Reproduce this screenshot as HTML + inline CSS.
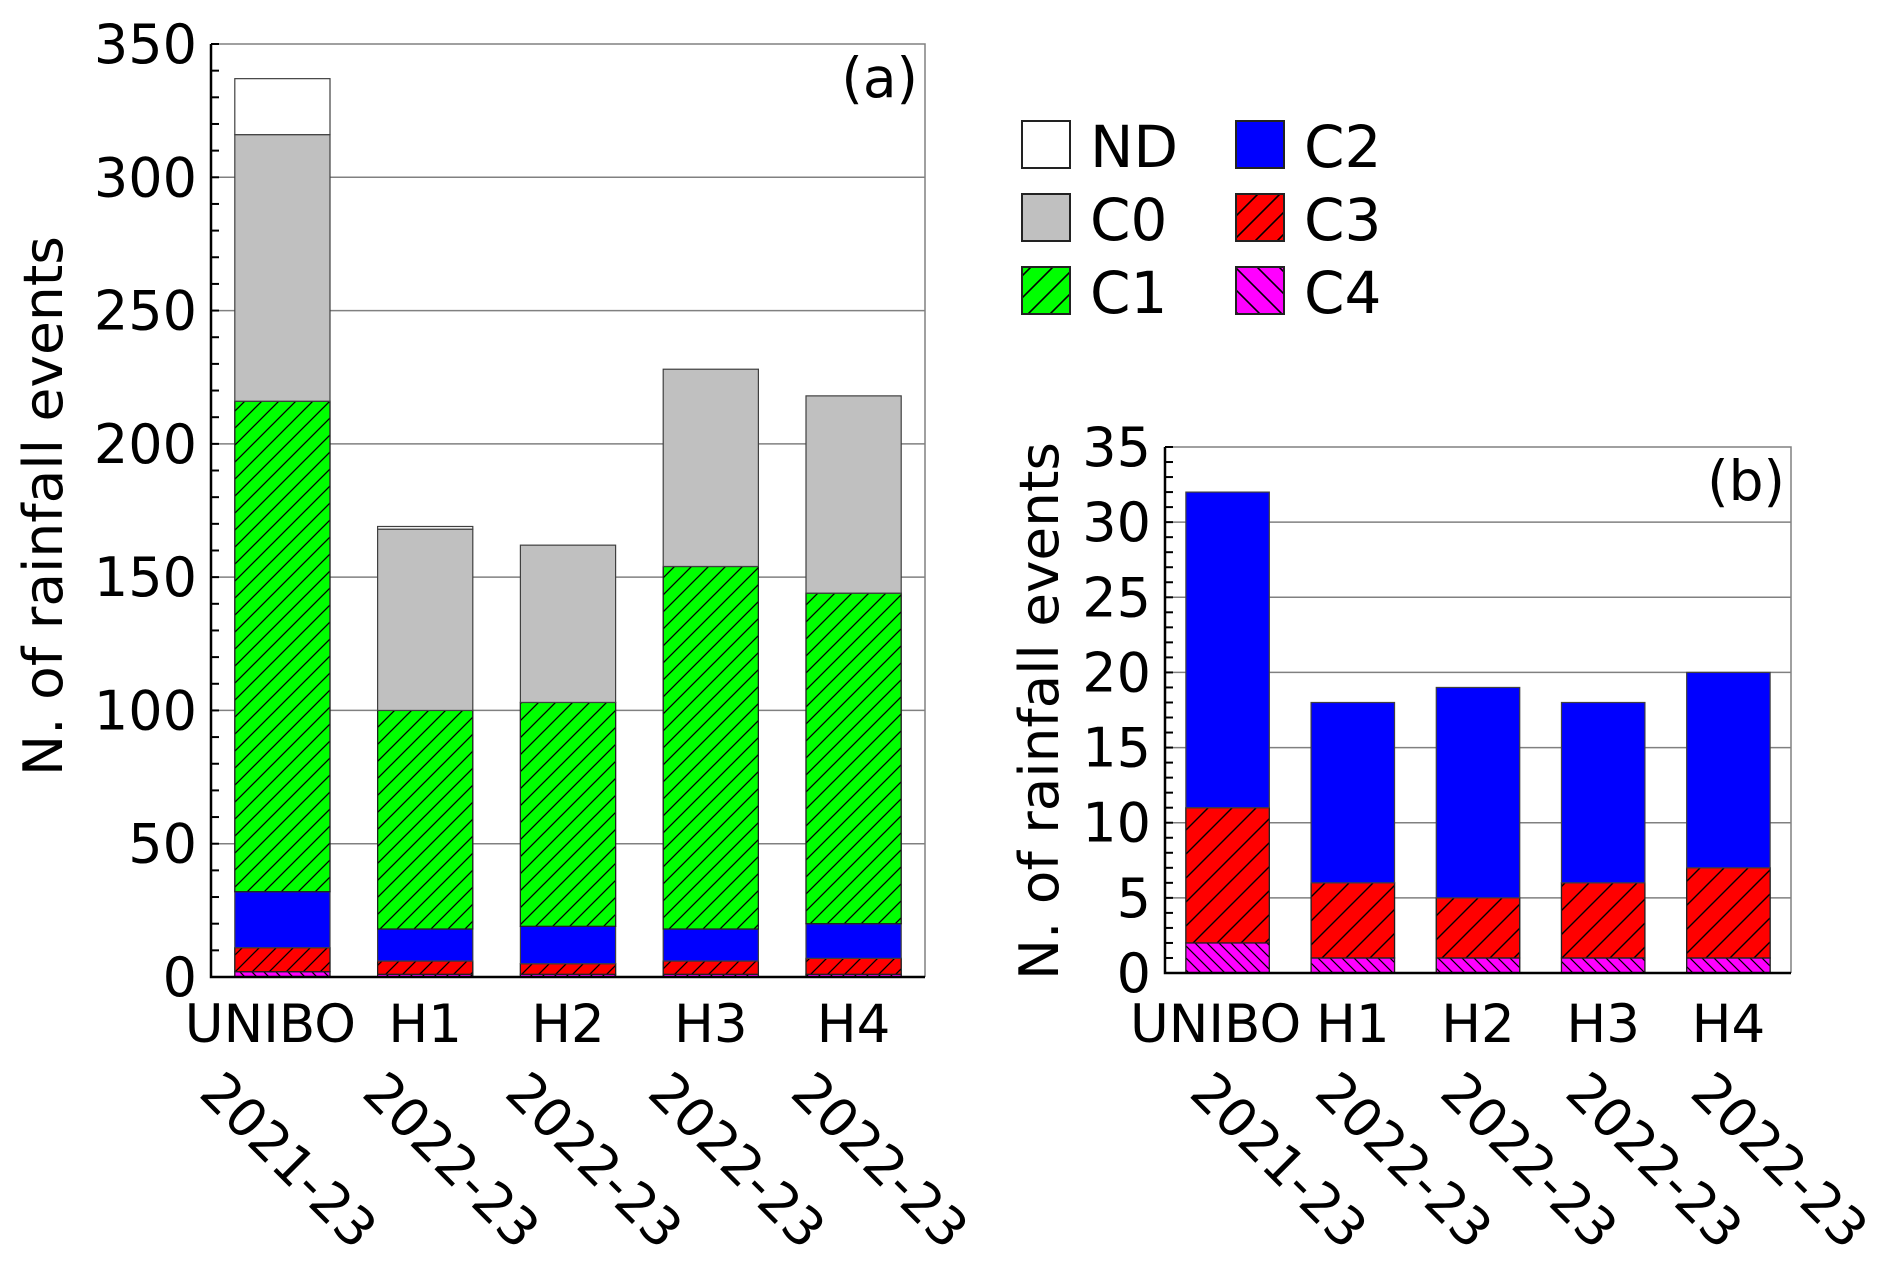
<!DOCTYPE html>
<html><head><meta charset="utf-8"><style>
html,body{margin:0;padding:0;background:#fff;}
svg{display:block;font-family:"DejaVu Sans","Liberation Sans",sans-serif;}
</style></head><body>
<svg id="chart" width="1892" height="1264" viewBox="0 0 1892 1264" xmlns="http://www.w3.org/2000/svg">
<defs>
<pattern id="hA" patternUnits="userSpaceOnUse" width="17" height="17"><path d="M-2,19 L19,-2 M-2,2 L2,-2 M15,19 L19,15" stroke="#000" stroke-width="1.3"/></pattern>
<pattern id="hB" patternUnits="userSpaceOnUse" width="24" height="24"><path d="M-3,27 L27,-3 M-3,3 L3,-3 M21,27 L27,21" stroke="#000" stroke-width="1.4"/></pattern>
<pattern id="hBk" patternUnits="userSpaceOnUse" width="12" height="12"><path d="M-3,-3 L15,15 M-3,9 L3,15 M9,-3 L15,3" stroke="#000" stroke-width="1.2"/></pattern>
<pattern id="hL" patternUnits="userSpaceOnUse" width="22" height="22"><path d="M-3,25 L25,-3 M-3,3 L3,-3 M19,25 L25,19" stroke="#000" stroke-width="1.6"/></pattern>
<pattern id="hLb" patternUnits="userSpaceOnUse" width="22" height="22"><path d="M-3,-3 L25,25 M-3,19 L3,25 M19,-3 L25,3" stroke="#000" stroke-width="1.6"/></pattern>
</defs>
<g id="panelA"></g>
<g id="panelB"></g>
<g id="legend"></g>
</svg>
<script>
const categories = ["UNIBO","H1","H2","H3","H4"];
const periods = ["2021-23","2022-23","2022-23","2022-23","2022-23"];
const seriesNames = ["C4","C3","C2","C1","C0","ND"];
const c4 = [2,1,1,1,1];
const c3 = [9,5,4,5,6];
const c2 = [21,12,14,12,13];
const c1 = [184,82,84,136,124];
const c0 = [100,68,59,74,74];
const nd = [21,1,0,0,0];
const ticksA = [0,50,100,150,200,250,300,350];
const ticksB = [0,5,10,15,20,25,30,35];

const NS="http://www.w3.org/2000/svg";
function mk(tag, attrs, parent){const e=document.createElementNS(NS,tag);for(const k in attrs)e.setAttribute(k,attrs[k]);parent.appendChild(e);return e;}

function drawPanel(g, cfg){
  const {x0,x1,y0,y1,max,ticks,minor,series,label,labelX,labelY,titleX,titleY0,titleLen,rotOff,rotOff0} = cfg;
  const yS = v => y0 - (v/max)*(y0-y1);
  const band = (x1-x0)/categories.length;
  const xC = i => x0 + band*(i+0.5);
  const bw = band*2/3;
  ticks.forEach(t=>{ if(t>0 && t<max){
    const l=mk('line',{x1:x0,x2:x1,y1:yS(t),y2:yS(t),stroke:'#808080','stroke-width':1.5},g);
    
    
  }});
  categories.forEach((c,i)=>{
    let acc=0;
    series.forEach((s)=>{
      const v=s.vals[i]; if(v<=0) return;
      const yt=yS(acc+v), yb=yS(acc);
      const r=mk('rect',{x:xC(i)-bw/2,y:yt,width:bw,height:yb-yt,fill:s.color,stroke:'#404040','stroke-width':1.2},g);
      
      
      if(s.hatch){
        const h=mk('rect',{x:xC(i)-bw/2,y:yt,width:bw,height:yb-yt,fill:'url(#'+s.hatch+')',stroke:'#202020','stroke-width':1.2},g);
        
        
      }
      acc+=v;
    });
  });
  const f1=mk('path',{d:`M${x0},${y1} L${x1},${y1} L${x1},${y0}`,fill:'none',stroke:'#808080','stroke-width':1.5},g);
  
  
  const f2=mk('path',{d:`M${x0},${y1} L${x0},${y0} L${x1},${y0}`,fill:'none',stroke:'#000','stroke-width':2.5},g);
  
  
  for(let v=0; v<=max; v+=minor){
    const t=mk('line',{x1:x0,x2:x0+8,y1:yS(v),y2:yS(v),stroke:'#000','stroke-width':2},g);
    
    
  }
  ticks.forEach(t=>{
    const tx=mk('text',{x:x0-14,y:yS(t)+19,'text-anchor':'end','font-size':54},g);
    tx.textContent=t;
    
    
  });
  categories.forEach((c,i)=>{
    const tx=mk('text',{x:xC(i)+(i===0?-12:0),y:1042,'text-anchor':'middle','font-size':53},g);
    tx.textContent=c;
    
    
    const ax=xC(i)+(i===0?rotOff0:rotOff), ay=1095;
    const pt=mk('text',{x:ax,y:ay,'font-size':53,transform:`rotate(45 ${ax} ${ay})`},g);
    pt.textContent=periods[i];
    
    
  });
  const pl=mk('text',{x:labelX,y:labelY,'text-anchor':'end','font-size':55},g);
  pl.textContent=label;
  
  
  const yt=mk('text',{x:titleX,y:titleY0,'font-size':54,textLength:titleLen,lengthAdjust:'spacingAndGlyphs',transform:`rotate(-90 ${titleX} ${titleY0})`},g);
  yt.textContent='N. of rainfall events';
  
  
}

drawPanel(document.getElementById('panelA'),{
  x0:211,x1:925,y0:977,y1:44,max:350,ticks:ticksA,minor:10,
  series:[{name:'C4',vals:c4,color:'#ff00ff',hatch:'hBk'},{name:'C3',vals:c3,color:'#ff0000',hatch:'hA'},{name:'C2',vals:c2,color:'#0000ff'},{name:'C1',vals:c1,color:'#00ff00',hatch:'hA'},{name:'C0',vals:c0,color:'#c0c0c0'},{name:'ND',vals:nd,color:'#ffffff'}],
  label:'(a)',labelX:918,labelY:97,titleX:62,titleY0:776,titleLen:540,rotOff:-65,rotOff0:-85
});
drawPanel(document.getElementById('panelB'),{
  x0:1165,x1:1791,y0:973,y1:447,max:35,ticks:ticksB,minor:1,
  series:[{name:'C4',vals:c4,color:'#ff00ff',hatch:'hBk'},{name:'C3',vals:c3,color:'#ff0000',hatch:'hB'},{name:'C2',vals:c2,color:'#0000ff'}],
  label:'(b)',labelX:1785,labelY:500,titleX:1058,titleY0:980,titleLen:538,rotOff:-40,rotOff0:-40
});

const lg=document.getElementById('legend');
const legItems=[['ND','#ffffff',null,1022,121],['C0','#c0c0c0',null,1022,194],['C1','#00ff00','hL',1022,267],['C2','#0000ff',null,1236,121],['C3','#ff0000','hL',1236,194],['C4','#ff00ff','hLb',1236,267]];
legItems.forEach(it=>{
  const g=mk('g',{},lg);
  
  
  mk('rect',{x:it[3],y:it[4],width:48,height:47,fill:it[1],stroke:'#222','stroke-width':2},g);
  if(it[2]) mk('rect',{x:it[3],y:it[4],width:48,height:47,fill:'url(#'+it[2]+')',stroke:'#222','stroke-width':2},g);
  const t=mk('text',{x:it[3]+68,y:it[4]+46,'font-size':58},g);
  t.textContent=it[0];
});
</script>
</body></html>
